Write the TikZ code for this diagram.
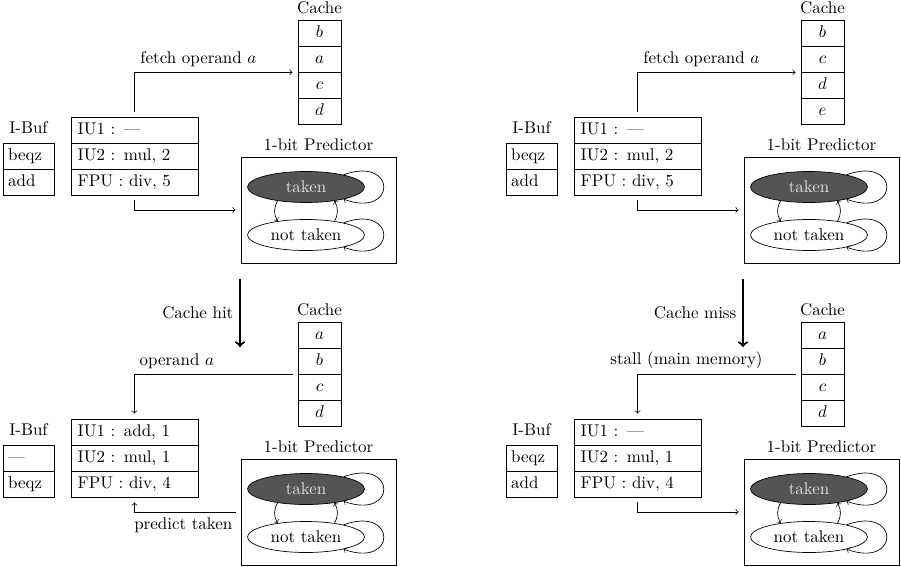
\documentclass[tikz,border=0pt]{standalone}
\usetikzlibrary{shapes.geometric}

\tikzset{
  fucell/.style={draw, text width=67pt, inner xsep=4pt, inner ysep=0pt, minimum height=15.4pt, align=left, text height=7pt, text depth=2pt},
  ibufcell/.style={draw, text width=24pt, inner xsep=3pt, inner ysep=0pt, minimum height=15.4pt, align=left, text height=7pt, text depth=2pt},
  cachecell/.style={draw, minimum width=25.4pt, minimum height=15.4pt, inner sep=0pt, text height=7pt, text depth=2pt},
  predbox/.style={draw, minimum width=91.5pt, minimum height=62.5pt, inner sep=0pt},
  predstate/.style={ellipse, draw, minimum width=69pt, minimum height=18.3pt, inner sep=0pt},
  conn/.style={->, shorten <=3pt, shorten >=3pt},
  bigarrow/.style={->, line width=1.2pt}
}

% one instruction buffer, two slots
\newcommand{\ibufstack}[2]{%
  \node[ibufcell] (ib1) at (28.5,156) {#1};
  \node[ibufcell] (ib2) at (28.5,182) {#2};
  \node[above, yshift=1.5pt] (iblbl) at (ib1.north) {I-Buf};
}
% functional units
\newcommand{\fustack}[3]{%
  \node[fucell] (fu1) at (134.5,130) {#1};
  \node[fucell] (fu2) at (134.5,156) {#2};
  \node[fucell] (fu3) at (134.5,182) {#3};
}
% cache, four lines
\newcommand{\cachestack}[4]{%
  \node[cachecell] (ca1) at (319.5,33) {$#1$};
  \node[cachecell] (ca2) at (319.5,59) {$#2$};
  \node[cachecell] (ca3) at (319.5,85) {$#3$};
  \node[cachecell] (ca4) at (319.5,111) {$#4$};
  \node[above] (calbl) at (ca1.north) {Cache};
}
% 1-bit predictor
\newcommand{\predictorbox}{%
  \node[predbox] (pred) at (318.5,210) {};
  \node[above] (predlbl) at (pred.north) {1-bit Predictor};
  \node[predstate, fill=black!67, text=black!12] (tk) at (306,187) {taken};
  \node[predstate, fill=white] (nt) at (306,235) {not taken};
  \draw[->] (tk.18) to[out=20, in=-20, looseness=6] (tk.-18);
  \draw[->] (nt.18) to[out=20, in=-20, looseness=6] (nt.-18);
  \draw[->] (tk.206) to[bend right=30] (nt.154);
  \draw[->] (nt.26) to[bend right=30] (tk.334);
}

\begin{document}
\begin{tikzpicture}[x=0.59pt, y=-0.59pt]
  \useasboundingbox (0,0) rectangle (901,566);

  %%%%% top left %%%%%
  \begin{scope}[name prefix=tl-]
    \ibufstack{beqz}{add}
    \fustack{IU1 : ---}{IU2 : mul, 2}{FPU : div, 5}
    \cachestack{b}{a}{c}{d}
    \predictorbox
    \draw[conn] (fu1.north) |- node[above right] {fetch operand $a$} (ca2.south west);
    \draw[conn] (fu3.south) |- (pred.west);
  \end{scope}

  %%%%% top right %%%%%
  \begin{scope}[shift={(503,0)}, name prefix=tr-]
    \ibufstack{beqz}{add}
    \fustack{IU1 : ---}{IU2 : mul, 2}{FPU : div, 5}
    \cachestack{b}{c}{d}{e}
    \predictorbox
    \draw[conn] (fu1.north) |- node[above right] {fetch operand $a$} (ca2.south west);
    \draw[conn] (fu3.south) |- (pred.west);
  \end{scope}

  %%%%% between %%%%%
  \coordinate (hit-top) at (240,279);
  \coordinate (hit-bot) at (240,347);
  \coordinate (miss-top) at (743,279);
  \coordinate (miss-bot) at (743,347);
  \draw[bigarrow] (hit-top) -- node[left] {Cache hit} (hit-bot);
  \draw[bigarrow] (miss-top) -- node[left] {Cache miss} (miss-bot);

  %%%%% bottom left %%%%%
  \begin{scope}[shift={(0,302)}, name prefix=bl-]
    \ibufstack{---}{beqz}
    \fustack{IU1 : add, 1}{IU2 : mul, 1}{FPU : div, 4}
    \cachestack{a}{b}{c}{d}
    \predictorbox
    \draw[conn] (ca2.south west) -| node[pos=.37, above] {operand $a$} (fu1.north);
    \draw[conn] (pred.west) -| node[pos=.27, below] {predict taken} (fu3.south);
  \end{scope}

  %%%%% bottom right %%%%%
  \begin{scope}[shift={(503,302)}, name prefix=br-]
    \ibufstack{beqz}{add}
    \fustack{IU1 : ---}{IU2 : mul, 1}{FPU : div, 4}
    \cachestack{a}{b}{c}{d}
    \predictorbox
    \draw[conn] (ca2.south west) -| node[pos=.35, above] {stall (main memory)} (fu1.north);
    \draw[conn] (fu3.south) |- (pred.west);
  \end{scope}
\end{tikzpicture}
\end{document}
